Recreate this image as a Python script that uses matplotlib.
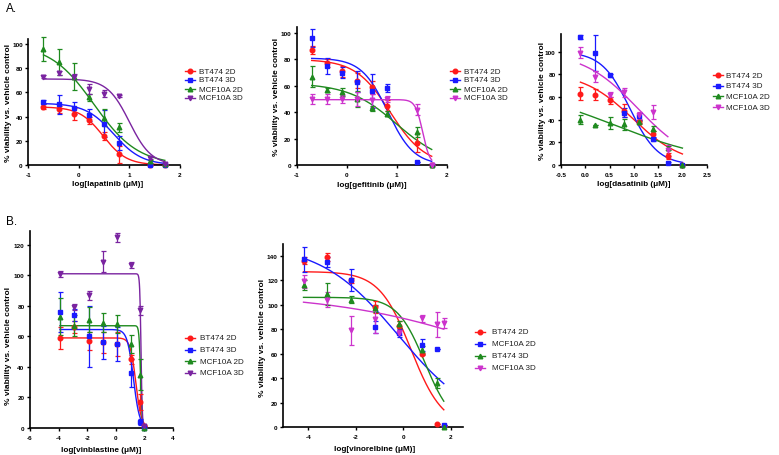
#!/usr/bin/env python3
"""
Dose-response curves, BT474 / MCF10A in 2D and 3D culture
"""

import numpy as np
import matplotlib
matplotlib.use('Agg')
import matplotlib.pyplot as plt
from matplotlib.lines import Line2D

plt.rcParams['font.family'] = ['Liberation Sans', 'DejaVu Sans']

W, H = 779, 456

RED = '#ff1a1a'
BLUE = '#1a1aff'
GREEN = '#1f8a1f'
PURPLE = '#7a24a0'
MAGENTA = '#cc33cc'

# ---------------- A. lapatinib ----------------
lap_dose = [-0.7, -0.4, -0.1, 0.2, 0.5, 0.8, 1.4, 1.7]
lap_bt2d = [48, 46, 42, 37, 24, 9, 0, 0]
lap_bt2d_err = [2, 3, 5, 3, 3, 7, 0, 0]
lap_bt3d = [52, 50, 47, 41, 34, 18, 0, 0]
lap_bt3d_err = [2, 8, 5, 5, 11, 6, 0, 0]
lap_mcf2d = [96, 85, 73, 56, 39, 31, 3, 1]
lap_mcf2d_err = [10, 11, 11, 3, 7, 4, 1, 0]
lap_mcf3d = [73, 76, 73, 63, 59, 57, 6, 1]
lap_mcf3d_err = [1, 2, 2, 4, 3, 1, 1, 0]
# fitted curves (top, logIC50, hill; bottom = 0)
lap_top = [48, 51, 100, 71]
lap_ic50 = [0.48, 0.69, 0.30, 1.00]
lap_hill = [1.87, 1.56, 1.0, 2.0]

# ---------------- A. gefitinib ----------------
gef_dose = [-0.7, -0.4, -0.1, 0.2, 0.5, 0.8, 1.4, 1.7]
gef_bt2d = [87, 77, 71, 64, 59, 45, 17, 0]
gef_bt2d_err = [3, 3, 4, 6, 5, 4, 7, 0]
gef_bt3d = [96, 75, 70, 63, 56, 58, 2, 0]
gef_bt3d_err = [7, 6, 4, 8, 13, 3, 0, 0]
gef_mcf2d = [67, 57, 55, 50, 43, 39, 25, 0]
gef_mcf2d_err = [8, 1.5, 3, 6, 2, 2, 4, 0]
gef_mcf3d = [50, 50, 50, 50, 49, 50, 42, 0]
gef_mcf3d_err = [4, 4, 3, 5, 5, 2, 4, 0]
gef_top = [80, 81, 62, 49.5]
gef_ic50 = [0.87, 0.82, 1.0, 1.52]
gef_hill = [1.26, 1.65, 0.9, 6.0]

# ---------------- A. dasatinib ----------------
das_dose = [-0.1, 0.2, 0.5, 0.8, 1.1, 1.4, 1.7, 2.0]
das_bt2d = [63, 62, 57, 48, 38, 27, 8, 0]
das_bt2d_err = [6, 5, 3, 6, 2, 3, 3, 0]
das_bt3d = [113, 99, 79, 46, 43, 23, 2, 0]
das_bt3d_err = [2, 16, 1, 4, 3, 2, 1, 0]
das_mcf2d = [40, 35, 37, 36, 38, 32, 15, 0]
das_mcf2d_err = [4, 0, 5, 5, 1, 2, 2, 0]
das_mcf3d = [99, 78, 62, 64, 44, 47, 13, np.nan]
das_mcf3d_err = [5, 5, 2, 4, 3, 6, 5, 0]
das_top = [82, 100, 70, 100]
das_ic50 = [0.976, 0.917, 0.617, 1.08]
das_hill = [0.85, 1.5, 0.41, 0.77]
das_fit_end = [2.0, 2.0, 2.0, 1.7]

# ---------------- B. vinblastine ----------------
vbl_dose = [-3.9, -2.9, -1.9, -0.9, 0.1, 1.1, 1.7, 2.0]
vbl_bt2d = [59, 66, 57, 56, 55, 45, 17, 1]
vbl_bt2d_err = [7, 4, 6, 7, 8, 3, 5, 1]
vbl_bt3d = [76, 74, 60, 56, 55, 36, 4, 0]
vbl_bt3d_err = [13, 4, 20, 11, 11, 9, 2, 0]
vbl_mcf2d = [73, 67, 71, 69, 68, 55, 35, 0]
vbl_mcf2d_err = [12, 7, 8, 6, 6, 6, 10, 0]
vbl_mcf3d = [101, 79, 87, 109, 125, 107, 77, 1]
vbl_mcf3d_err = [2, 2, 3, 7, 3, 2, 3, 0]
vbl_top = [59, 64.5, 67, 101]
vbl_ic50 = [1.42, 1.25, 1.75, 1.78]
vbl_hill = [2.2, 2.0, 8.0, 10.0]

# ---------------- B. vinorelbine ----------------
vnr_dose = [-4.2, -3.2, -2.2, -1.2, -0.2, 0.8, 1.4, 1.7]
vnr_bt2d = [136, 139, 120, 98, 83, 60, 3, 1]
vnr_bt2d_err = [3, 3, 2, 5, 4, 1, 0, 0]
vnr_mcf2d = [137, 135, 120, 82, 77, 67, 64, 2]
vnr_mcf2d_err = [10, 4, 9, 5, 3, 5, 0, 0]
vnr_bt3d = [116, 109, 104, 97, 84, 63, 36, 0]
vnr_bt3d_err = [4, 9, 3, 3, 3, 3, 4, 0]
vnr_mcf3d = [119, 104, 79, 88, 77, 89, 84, 85]
vnr_mcf3d_err = [5, 6, 12, 11, 2, 3, 10, 4]
vnr_top = [127, 150, 106, 110]
vnr_ic50 = [0.32, -0.213, 0.9, 5.39]
vnr_hill = [0.65, 0.265, 0.75, 0.1155]


def four_pl(x, top, ic50, hill, bottom=0.0):
    """variable slope dose-response"""
    return bottom + (top - bottom) / (1 + 10 ** ((x - ic50) * hill))


def px_axes(fig, left, right, top, bottom):
    """axes from pixel edges (y measured from top of image)"""
    return fig.add_axes([left / W, 1 - bottom / H, (right - left) / W, (bottom - top) / H])


def draw_panel(fig, box, dose, means, errs, tops, ic50s, hills, colors, markers,
               labels, xlim, ylim, xticks, yticks, xlabel, xtick_fmt,
               ylab_pos, xlab_pos, leg_x, leg_rows, leg_gap=10, fit_ends=None):
    ax = px_axes(fig, *box)
    x = np.array(dose)
    for i in range(4):
        xe = fit_ends[i] if fit_ends else x.max()
        xx = np.linspace(x.min(), xe, 300)
        ax.plot(xx, four_pl(xx, tops[i], ic50s[i], hills[i]), color=colors[i], lw=1.0, zorder=2)
    for i in range(4):
        ax.errorbar(x, means[i], yerr=errs[i], fmt=markers[i], color=colors[i], ms=3.3,
                    elinewidth=0.9, capsize=1.8, capthick=0.9, clip_on=False, zorder=3)

    ax.set_xlim(*xlim)
    ax.set_ylim(*ylim)
    ax.set_xticks(xticks)
    ax.set_xticklabels([xtick_fmt.format(t) for t in xticks])
    ax.set_yticks(yticks)
    for s in ['top', 'right']:
        ax.spines[s].set_visible(False)
    for s in ['left', 'bottom']:
        ax.spines[s].set_linewidth(1.2)
    ax.tick_params(direction='out', length=2.5, width=1.0, labelsize=4.6, pad=1.5)
    ax.tick_params(axis='x', pad=2.5)
    for lab in ax.get_xticklabels() + ax.get_yticklabels():
        lab.set_fontweight('bold')
    ax.set_xlabel(xlabel, fontsize=5.9, fontweight='bold')
    ax.set_ylabel('% viability vs. vehicle control', fontsize=6.0, fontweight='bold')
    ax.xaxis.set_label_coords(*xlab_pos)
    ax.yaxis.set_label_coords(*ylab_pos)

    # legend drawn by hand so the row pitch matches
    for i in range(4):
        yf = 1 - leg_rows[i] / H
        fig.add_artist(Line2D([(leg_x - 5) / W, (leg_x + 5) / W], [yf, yf],
                              transform=fig.transFigure, color=colors[i], lw=1.0))
        fig.add_artist(Line2D([leg_x / W], [yf], transform=fig.transFigure,
                              color=colors[i], marker=markers[i], ms=3.3, lw=0))
        fig.text((leg_x + leg_gap) / W, yf, labels[i], fontsize=5.9, va='center', ha='left',
                 color='#222222')
    return ax


fig = plt.figure(figsize=(W / 100, H / 100), dpi=100)

std_labels = ['BT474 2D', 'BT474 3D', 'MCF10A 2D', 'MCF10A 3D']
std_markers = ['o', 's', '^', 'v']

draw_panel(fig, (28.3, 180, 40, 166), lap_dose,
           [lap_bt2d, lap_bt3d, lap_mcf2d, lap_mcf3d],
           [lap_bt2d_err, lap_bt3d_err, lap_mcf2d_err, lap_mcf3d_err],
           lap_top, lap_ic50, lap_hill, [RED, BLUE, GREEN, PURPLE], std_markers, std_labels,
           (-1, 2), (0, 104), [-1, 0, 1, 2], [0, 20, 40, 60, 80, 100],
           'log[lapatinib (μM)]', '{:g}', (-0.108, 0.5), (0.52, -0.123),
           190, [72, 81, 90, 99], leg_gap=9)

draw_panel(fig, (296.7, 446.7, 28.3, 166), gef_dose,
           [gef_bt2d, gef_bt3d, gef_mcf2d, gef_mcf3d],
           [gef_bt2d_err, gef_bt3d_err, gef_mcf2d_err, gef_mcf3d_err],
           gef_top, gef_ic50, gef_hill, [RED, BLUE, GREEN, MAGENTA], std_markers, std_labels,
           (-1, 2), (0, 104.3), [-1, 0, 1, 2], [0, 20, 40, 60, 80, 100],
           'log[gefitinib (μM)]', '{:g}', (-0.111, 0.5), (0.5, -0.113),
           455, [72, 81, 90, 99], leg_gap=9)

draw_panel(fig, (561, 706.7, 35, 166), das_dose,
           [das_bt2d, das_bt3d, das_mcf2d, das_mcf3d],
           [das_bt2d_err, das_bt3d_err, das_mcf2d_err, das_mcf3d_err],
           das_top, das_ic50, das_hill, [RED, BLUE, GREEN, MAGENTA], std_markers, std_labels,
           (-0.5, 2.5), (0, 115.6), [-0.5, 0, 0.5, 1, 1.5, 2, 2.5], [0, 20, 40, 60, 80, 100],
           'log[dasatinib (μM)]', '{:.1f}', (-0.105, 0.5), (0.5, -0.118),
           718, [76, 86.7, 97.3, 108.3], leg_gap=8, fit_ends=das_fit_end)

draw_panel(fig, (30, 172.7, 232, 429), vbl_dose,
           [vbl_bt2d, vbl_bt3d, vbl_mcf2d, vbl_mcf3d],
           [vbl_bt2d_err, vbl_bt3d_err, vbl_mcf2d_err, vbl_mcf3d_err],
           vbl_top, vbl_ic50, vbl_hill, [RED, BLUE, GREEN, PURPLE], std_markers, std_labels,
           (-6, 4), (0, 129), [-6, -4, -2, 0, 2, 4], [0, 20, 40, 60, 80, 100, 120],
           'log[vinblastine (μM)]', '{:g}', (-0.124, 0.42), (0.5, -0.089),
           190, [339, 350.5, 362, 373.5], leg_gap=10)

draw_panel(fig, (283.3, 463.3, 245, 428.3), vnr_dose,
           [vnr_bt2d, vnr_mcf2d, vnr_bt3d, vnr_mcf3d],
           [vnr_bt2d_err, vnr_mcf2d_err, vnr_bt3d_err, vnr_mcf3d_err],
           vnr_top, vnr_ic50, vnr_hill, [RED, BLUE, GREEN, MAGENTA], std_markers,
           ['BT474 2D', 'MCF10A 2D', 'BT474 3D', 'MCF10A 3D'],
           (-5.05, 2.52), (0, 149.5), [-4, -2, 0, 2], [0, 20, 40, 60, 80, 100, 120, 140],
           'log[vinorelbine (μM)]', '{:g}', (-0.098, 0.49), (0.51, -0.099),
           480, [333, 345, 357, 369], leg_gap=11.5)

fig.text(6 / W, 1 - 9 / H, 'A.', fontsize=8.5, va='center', ha='left')
fig.text(6 / W, 1 - 222 / H, 'B.', fontsize=8.5, va='center', ha='left')

plt.savefig('out.png', dpi=100)
plt.close()
